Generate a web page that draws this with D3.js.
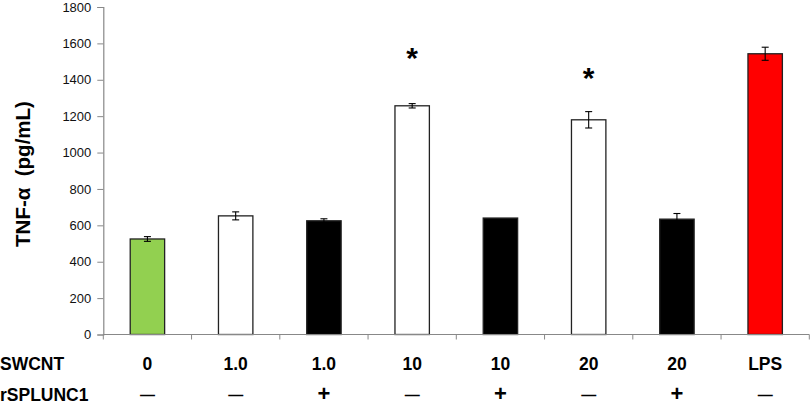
<!DOCTYPE html>
<html>
<head>
<meta charset="utf-8">
<script src="https://cdn.jsdelivr.net/npm/d3@7"></script>
<style>
  body { margin: 0; background: #fff; }
  svg { display: block; font-family: "Liberation Sans", Arial, sans-serif; }
</style>
</head>
<body>
<svg id="chart" width="810" height="403"></svg>
<script>
// values
var swcnt = ['0', '1.0', '1.0', '10', '10', '20', '20', 'LPS'];
var splunc = ['\u2014', '\u2014', '+', '\u2014', '+', '\u2014', '+', '\u2014'];
var tnf = [525, 652, 625, 1257, 640, 1180, 634, 1543];
var sem = [13, 22, 11, 12, 0, 45, 31, 36];
var fills = ['#92D050', '#ffffff', '#000000', '#ffffff', '#000000', '#ffffff', '#000000', '#FF0000'];
var stars = [null, null, null, 1550, null, 1445, null, null];
var yTicks = [0, 200, 400, 600, 800, 1000, 1200, 1400, 1600, 1800];

(function () {
    'use strict';

    var svg = d3.select('#chart');
    var plotLeft = 103.3, plotRight = 809.3, plotBottom = 334.5, plotTop = 7;

    var x = d3.scaleBand()
        .domain(d3.range(swcnt.length))
        .range([plotLeft, plotRight])
        .paddingInner(0.61)
        .paddingOuter(0.305);

    var y = d3.scaleLinear()
        .domain([0, 1800])
        .range([plotBottom, plotTop]);

    var cx = function (i) { return x(i) + x.bandwidth() / 2; };

    // y axis
    var yAxis = svg.append('g')
        .attr('transform', 'translate(' + plotLeft + ',0)')
        .call(d3.axisLeft(y).tickValues(yTicks).tickFormat(d3.format('d')).tickSize(6).tickPadding(6));
    yAxis.select('.domain').attr('stroke', '#888').attr('stroke-width', 1.2);
    yAxis.selectAll('.tick line').attr('stroke', '#888');
    yAxis.selectAll('.tick text')
        .attr('font-family', '"Liberation Sans", Arial, sans-serif')
        .attr('font-size', 13)
        .attr('fill', '#111');

    // y title
    svg.append('text')
        .attr('transform', 'translate(30,174) rotate(-90)')
        .attr('text-anchor', 'middle')
        .attr('font-size', 20.5)
        .attr('font-weight', 'bold')
        .style('white-space', 'pre')
        .attr('fill', '#000')
        .text('TNF-\u03B1  (pg/mL)');

    // bars
    svg.append('g').selectAll('rect')
        .data(tnf)
        .join('rect')
        .attr('x', function (d, i) { return x(i); })
        .attr('y', function (d) { return y(d); })
        .attr('width', x.bandwidth())
        .attr('height', function (d) { return plotBottom - y(d); })
        .attr('fill', function (d, i) { return fills[i]; })
        .attr('stroke', '#222')
        .attr('stroke-width', 1.3);

    // x axis line + ticks at band edges
    svg.append('line')
        .attr('x1', plotLeft).attr('x2', plotRight)
        .attr('y1', plotBottom).attr('y2', plotBottom)
        .attr('stroke', '#888').attr('stroke-width', 1.2);
    svg.append('g').selectAll('line')
        .data(d3.range(swcnt.length + 1))
        .join('line')
        .attr('x1', function (k) { return plotLeft + k * x.step(); })
        .attr('x2', function (k) { return plotLeft + k * x.step(); })
        .attr('y1', plotBottom)
        .attr('y2', plotBottom + 5)
        .attr('stroke', '#888');

    // error bars
    var err = svg.append('g').attr('stroke', '#000').attr('stroke-width', 1.1);
    tnf.forEach(function (v, i) {
        if (!sem[i]) return;
        var cap = 3.5;
        err.append('line').attr('x1', cx(i)).attr('x2', cx(i)).attr('y1', y(v - sem[i])).attr('y2', y(v + sem[i]));
        err.append('line').attr('x1', cx(i) - cap).attr('x2', cx(i) + cap).attr('y1', y(v + sem[i])).attr('y2', y(v + sem[i]));
        err.append('line').attr('x1', cx(i) - cap).attr('x2', cx(i) + cap).attr('y1', y(v - sem[i])).attr('y2', y(v - sem[i]));
    });

    // significance stars
    svg.append('g').selectAll('text')
        .data(d3.range(stars.length).filter(function (i) { return stars[i] !== null; }))
        .join('text')
        .attr('x', cx)
        .attr('y', function (i) { return y(stars[i]) + 16; })
        .attr('text-anchor', 'middle')
        .attr('font-size', 30)
        .attr('font-weight', 'bold')
        .text('*');

    // category rows
    svg.append('text').attr('x', 0).attr('y', 369.5)
        .attr('font-size', 17.5).attr('font-weight', 'bold').text('SWCNT');
    svg.append('text').attr('x', 0).attr('y', 400.5)
        .attr('font-size', 17.5).attr('font-weight', 'bold').text('rSPLUNC1');

    svg.append('g').selectAll('text')
        .data(swcnt)
        .join('text')
        .attr('x', function (d, i) { return cx(i); })
        .attr('y', 369.5)
        .attr('text-anchor', 'middle')
        .attr('font-size', 17.5)
        .attr('font-weight', 'bold')
        .text(function (d) { return d; });

    svg.append('g').selectAll('text')
        .data(splunc)
        .join('text')
        .attr('x', function (d, i) { return cx(i); })
        .attr('y', function (d) { return d === '+' ? 400.5 : 400; })
        .attr('text-anchor', 'middle')
        .attr('font-size', function (d) { return d === '+' ? 22 : 15; })
        .attr('font-weight', 'bold')
        .text(function (d) { return d; });
})();
</script>
</body>
</html>
